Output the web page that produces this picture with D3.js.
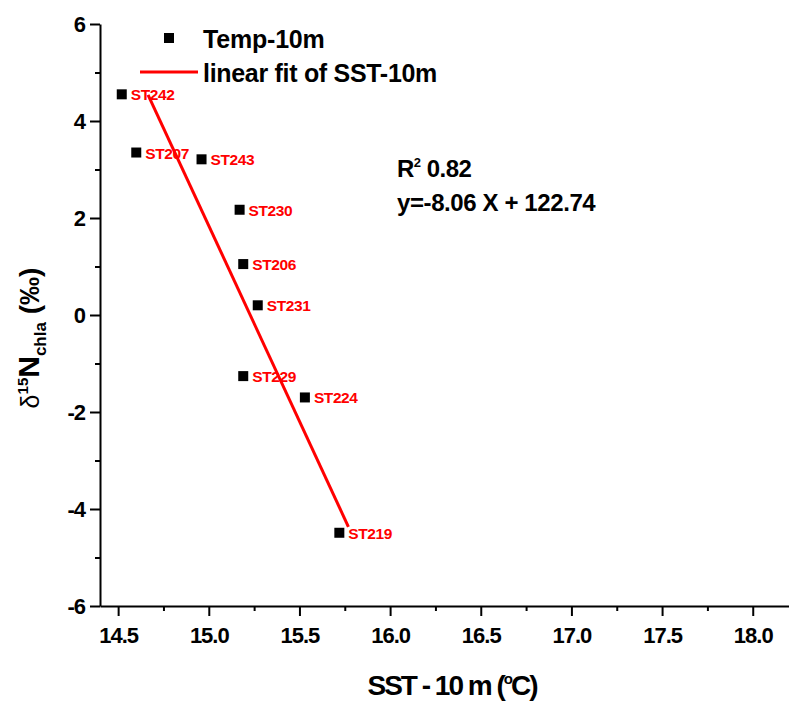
<!DOCTYPE html>
<html>
<head>
<meta charset="utf-8">
<script src="https://cdn.jsdelivr.net/npm/d3@7"></script>
<style>
  body { margin: 0; background: #fff; }
  text { font-family: "Liberation Sans", Arial, sans-serif; font-weight: bold; }
</style>
</head>
<body>
<svg id="chart" width="789" height="702"></svg>
<script>
// station data
const stations = ["ST242", "ST207", "ST243", "ST230", "ST206", "ST231", "ST229", "ST224", "ST219"];
const sst = [14.52, 14.60, 14.96, 15.17, 15.19, 15.27, 15.19, 15.53, 15.72];
const d15n = [4.55, 3.35, 3.21, 2.17, 1.05, 0.20, -1.26, -1.70, -4.49];

const xTicks = [14.5, 15.0, 15.5, 16.0, 16.5, 17.0, 17.5, 18.0];
const yTicks = [-6, -4, -2, 0, 2, 4, 6];
const fitSlope = -8.06, fitIntercept = 122.74;
const fitRange = [14.665, 15.77];

const svg = d3.select("#chart");

const x = d3.scaleLinear().domain([14.4, 18.2]).range([100, 789]);
const y = d3.scaleLinear().domain([-6, 6]).range([606, 24]);

const tickFont = g => g.selectAll("text")
    .style("font-size", "22px").style("letter-spacing", "-1px")
    .style("font-family", "Liberation Sans, Arial").style("font-weight", "bold");

// x axis: minor then major ticks
const xMinor = d3.range(14.75, 18.2, 0.5);
svg.append("g")
    .attr("transform", "translate(0,606)")
    .call(d3.axisBottom(x).tickValues(xMinor).tickSize(5).tickFormat(""))
    .call(g => g.select(".domain").remove())
    .selectAll("line").attr("stroke-width", 2);
const gx = svg.append("g")
    .attr("transform", "translate(0,606)")
    .call(d3.axisBottom(x).tickValues(xTicks).tickSize(10).tickSizeOuter(0).tickFormat(d => d.toFixed(1)));
gx.select(".domain").attr("stroke-width", 2);
gx.selectAll("line").attr("stroke-width", 2);
gx.call(tickFont);
gx.selectAll("text").attr("dy", 0).attr("y", 37);

// y axis
const yMinor = d3.range(-5, 6, 2);
svg.append("g")
    .attr("transform", "translate(100,0)")
    .call(d3.axisLeft(y).tickValues(yMinor).tickSize(5).tickFormat(""))
    .call(g => g.select(".domain").remove())
    .selectAll("line").attr("stroke-width", 2);
const gy = svg.append("g")
    .attr("transform", "translate(100,0)")
    .call(d3.axisLeft(y).tickValues(yTicks).tickSize(10).tickSizeOuter(0).tickFormat(d => String(d)));
gy.select(".domain").attr("stroke-width", 2);
gy.selectAll("line").attr("stroke-width", 2);
gy.call(tickFont);
gy.selectAll("text").attr("x", -15).attr("dy", "0.36em");

// fit line
svg.append("line")
    .attr("x1", x(fitRange[0])).attr("y1", y(fitSlope * fitRange[0] + fitIntercept))
    .attr("x2", x(fitRange[1])).attr("y2", y(fitSlope * fitRange[1] + fitIntercept))
    .attr("stroke", "#ff0000").attr("stroke-width", 3);

// points
const pts = stations.map((s, i) => ({ name: s, x: sst[i], y: d15n[i] }));
svg.selectAll("rect.pt").data(pts).enter().append("rect")
    .attr("class", "pt")
    .attr("x", d => x(d.x) - 5).attr("y", d => y(d.y) - 5)
    .attr("width", 10).attr("height", 10)
    .attr("fill", "#000");
svg.selectAll("text.lbl").data(pts).enter().append("text")
    .attr("class", "lbl")
    .attr("x", d => x(d.x) + 9).attr("y", d => y(d.y) + 6)
    .attr("fill", "#ff0000")
    .style("font-size", "15.5px").style("letter-spacing", "-0.4px")
    .text(d => d.name);

// legend
svg.append("rect").attr("x", 164).attr("y", 33).attr("width", 10).attr("height", 10).attr("fill", "#000");
svg.append("text").attr("x", 203).attr("y", 48).style("font-size", "25px").style("letter-spacing", "-0.2px").text("Temp-10m");
svg.append("line").attr("x1", 140).attr("x2", 198).attr("y1", 72).attr("y2", 72)
    .attr("stroke", "#ff0000").attr("stroke-width", 3);
svg.append("text").attr("x", 203).attr("y", 82).style("font-size", "25px").style("letter-spacing", "-0.3px").text("linear fit of SST-10m");

// fit stats
const r2 = svg.append("text").attr("x", 397).attr("y", 177).style("font-size", "24px").style("letter-spacing", "-0.5px");
r2.append("tspan").text("R");
r2.append("tspan").attr("dy", -10).style("font-size", "13px").text("2");
r2.append("tspan").attr("dy", 10).text(" 0.82");
svg.append("text").attr("x", 397).attr("y", 211).style("font-size", "24px").style("letter-spacing", "-0.4px")
    .text("y=-8.06 X + 122.74");

// axis titles
svg.append("text").attr("x", 452).attr("y", 695).attr("text-anchor", "middle")
    .style("font-size", "28px").style("letter-spacing", "-2px")
    .html('SST - 10 m (<tspan dy="-11" font-size="15">o</tspan><tspan dy="11">C)</tspan>');

const yt = svg.append("text").attr("transform", "translate(39,338) rotate(-90)")
    .attr("text-anchor", "middle").style("font-size", "28px");
yt.append("tspan").style("font-weight", "normal").style("font-size", "25px").text("δ");
yt.append("tspan").attr("dy", -11).style("font-size", "15px").text("15");
yt.append("tspan").attr("dy", 11).style("font-size", "30px").text("N");
yt.append("tspan").attr("dy", 7).style("font-size", "17px").text("chla");
yt.append("tspan").attr("dy", -7).text(" (‰)");
</script>
</body>
</html>
